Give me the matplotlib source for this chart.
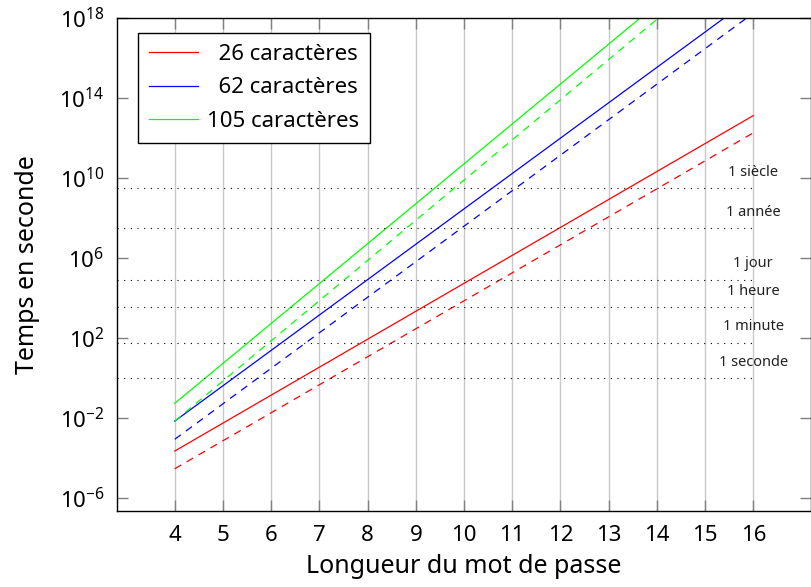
import numpy as np
import matplotlib
matplotlib.use("Agg")
import matplotlib.pyplot as plt

plt.rcParams['font.family'] = ['Noto Sans', 'DejaVu Sans']
plt.rcParams['mathtext.fontset'] = 'custom'
plt.rcParams['mathtext.rm'] = 'Noto Sans'
plt.rcParams['mathtext.it'] = 'Noto Sans:italic'

# password length at both ends of each line
lengths = [4, 16]

# time in seconds: solid = worst case, dashed = average
red_solid = [2.3e-4, 1.35e13]
red_dashed = [3.0e-5, 1.86e12]
blue_solid = [7.2e-3, 1.2e19]
blue_dashed = [8.9e-4, 1.8e18]
green_solid = [5.6e-2, 4.9e22]
green_dashed = [7.2e-3, 9.1e21]

labels = ["  26 caractères", "  62 caractères", "105 caractères"]

# reference durations
ref_names = ["1 seconde", "1 minute", "1 heure", "1 jour", "1 année", "1 siècle"]
ref_seconds = [1, 60, 3600, 86400, 3.156e7, 3.156e9]

xticks = list(range(4, 17))

fig = plt.figure(figsize=(8.12, 5.87), dpi=100)
ax = fig.add_axes([0.144, 0.129, 0.855, 0.840])

lw = 0.9
dash = (0, (6, 5))
ax.plot(lengths, red_solid, color='#ff0000', lw=lw, label=labels[0])
ax.plot(lengths, blue_solid, color='#0000ff', lw=lw, label=labels[1])
ax.plot(lengths, green_solid, color='#00ff00', lw=lw, label=labels[2])
ax.plot(lengths, red_dashed, color='#ff0000', lw=lw, ls=dash)
ax.plot(lengths, blue_dashed, color='#0000ff', lw=lw, ls=dash)
ax.plot(lengths, green_dashed, color='#00ff00', lw=lw, ls=dash)

ax.set_yscale('log')
ax.set_xlim(2.8, 17.2)
ax.set_ylim(10 ** -6.65, 1e18)

for name, sec in zip(ref_names, ref_seconds):
    ax.plot([2.8, 16], [sec, sec], color='black', lw=0.8, ls=(0, (1, 5)))
    ax.annotate(name, (16, sec), xytext=(0, 16), textcoords='offset pixels',
                ha='center', va='center', fontsize=10.5, color='#222222')

ax.set_xticks(xticks)
ax.set_yticks([10.0 ** k for k in range(-6, 19, 4)])
ax.yaxis.set_minor_locator(matplotlib.ticker.NullLocator())
ax.grid(True, axis='x', color='#c8c8c8', lw=1)
ax.tick_params(direction='in', length=8, width=1, color='#808080',
               top=True, right=True, labelsize=16, pad=9)
ax.tick_params(axis='x', pad=10)
for s in ax.spines.values():
    s.set_linewidth(1)

ax.set_xlabel("Longueur du mot de passe", fontsize=18, labelpad=6)
ax.set_ylabel("Temps en seconde", fontsize=18, labelpad=14)

leg = ax.legend(loc='upper left', bbox_to_anchor=(0.03, 0.97), borderaxespad=0,
                fontsize=16, frameon=True, fancybox=False,
                edgecolor='black', framealpha=1, handlelength=2.2,
                labelspacing=0.55, handletextpad=0.4, borderpad=0.5)
leg.get_frame().set_linewidth(1)

fig.savefig("out.png", dpi=100)
